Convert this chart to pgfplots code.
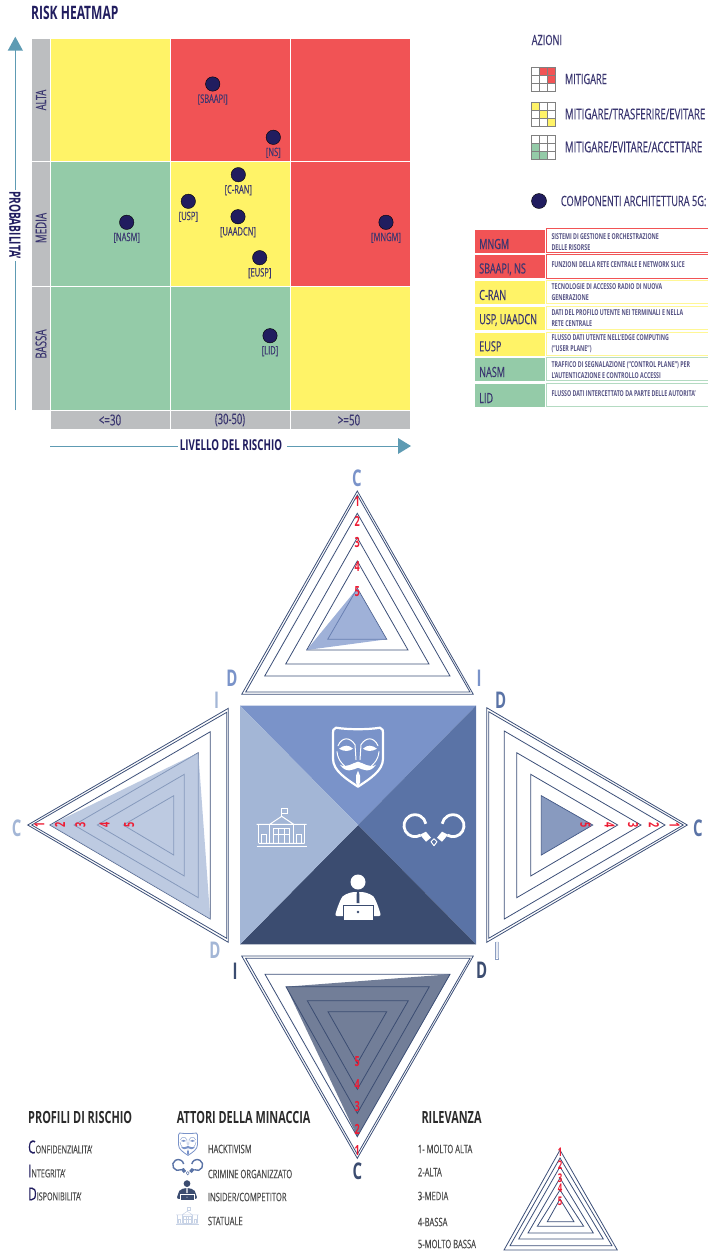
\documentclass[border=0pt]{standalone}
\usepackage{fontspec}
\setmainfont[FakeStretch=0.65,UprightFeatures={FakeBold=0.35}]{Open Sans}
\usepackage{pgfplots}
\pgfplotsset{compat=1.18}

\definecolor{hred}{HTML}{F15355}
\definecolor{hyel}{HTML}{FFF367}
\definecolor{hgrn}{HTML}{94CBA8}
\definecolor{hgry}{HTML}{BCBEC0}
\definecolor{navy}{HTML}{211D5F}
\definecolor{ink}{HTML}{3A3670}
\definecolor{teal}{HTML}{5E9BB3}
\definecolor{line}{HTML}{3C4F78}
\definecolor{cA}{HTML}{7A93C9}
\definecolor{cB}{HTML}{5A73A6}
\definecolor{cC}{HTML}{3B4C70}
\definecolor{cD}{HTML}{A3B6D6}
\definecolor{dark}{HTML}{2B2B2B}
\definecolor{gtx}{HTML}{4A4A4A}
\definecolor{digit}{HTML}{ED1C34}

% rectangle x1 x2 y1 y2
\newcommand{\cell}[5]{\addplot[fill=#1,draw=white,line width=0.9pt] coordinates {(#2,#4) (#3,#4) (#3,#5) (#2,#5)} -- cycle;}
\newcommand{\rowbox}[5]{\addplot[fill=white,draw=#1,line width=0.9pt] coordinates {(#3,#4) (#2,#4) (#2,#5) (#3,#5)};}
\newcommand{\mgrow}[5]{%
  \addplot[fill=#3,draw=gray,line width=0.8pt] coordinates {(531.5,#1) (539.3,#1) (539.3,#2) (531.5,#2)} -- cycle;
  \addplot[fill=#4,draw=gray,line width=0.8pt] coordinates {(539.3,#1) (547.1,#1) (547.1,#2) (539.3,#2)} -- cycle;
  \addplot[fill=#5,draw=gray,line width=0.8pt] coordinates {(547.1,#1) (554.9,#1) (554.9,#2) (547.1,#2)} -- cycle;}
\newcommand{\tri}[3]{\addplot[draw=line,line width=0.8pt,fill=none] coordinates {#1 #2 #3} -- cycle;}
\newcommand{\blob}[4]{\addplot[draw=none,fill=#1,fill opacity=0.72] coordinates {#2 #3 #4} -- cycle;}
% text: x y anchor size colour text
\newcommand{\tx}[6]{\node[anchor=#3,inner sep=0pt,text=#5,font=\fontsize{#4}{#4}\selectfont] at (axis cs:#1,#2) {#6};}
\newcommand{\btx}[6]{\node[anchor=#3,inner sep=0pt,text=#5,font=\fontsize{#4}{#4}\selectfont\bfseries] at (axis cs:#1,#2) {#6};}
\newcommand{\rtx}[7]{\node[anchor=center,rotate=#3,inner sep=0pt,text=#5,font=\fontsize{#4}{#4}\selectfont#7] at (axis cs:#1,#2) {#6};}

% icons, drawn round their centre
\newcommand{\maskicon}[4]{\begin{scope}[shift={(axis cs:#1,#2)},scale=#4,yscale=-1,x=1pt,y=1pt,draw=#3,fill=#3,line cap=round,line join=round]
  \draw[fill=none,line width=#4*2.2pt] (-22,-29) .. controls (-10,-27) and (10,-27) .. (22,-29) .. controls (25,-28) and (25,-26) .. (25,-24) -- (25,2) .. controls (25,14) and (12,22) .. (0,30) .. controls (-12,22) and (-25,14) .. (-25,2) -- (-25,-24) .. controls (-25,-26) and (-25,-28) .. (-22,-29) -- cycle;
  \draw[fill=none,line width=#4*1pt] (-20,-11) .. controls (-16,-20) and (-8,-20) .. (-3,-12) -- (-2,3);
  \draw[fill=none,line width=#4*1pt] (20,-11) .. controls (16,-20) and (8,-20) .. (3,-12) -- (2,3);
  \draw[fill=none,line width=#4*1pt] (-21,-5) .. controls (-20,5) and (-14,8) .. (-10,13);
  \draw[fill=none,line width=#4*1pt] (21,-5) .. controls (20,5) and (14,8) .. (10,13);
  \fill (-19,-8) .. controls (-14,-12) and (-9,-12) .. (-5,-8) .. controls (-9,-5) and (-14,-5) .. cycle;
  \fill (19,-8) .. controls (14,-12) and (9,-12) .. (5,-8) .. controls (9,-5) and (14,-5) .. cycle;
  \fill (-18,8) .. controls (-12,12) and (-5,6) .. (0,5) .. controls (5,6) and (12,12) .. (18,8) .. controls (12,17) and (5,13) .. (0,11) .. controls (-5,13) and (-12,17) .. cycle;
  \fill (0,14) -- (2,19) -- (2,26) -- (0,30) -- (-2,26) -- (-2,19) -- cycle;
\end{scope}}
\newcommand{\cuffs}[4]{\begin{scope}[shift={(axis cs:#1,#2)},scale=#4,yscale=-1,x=1pt,y=1pt,draw=#3,fill=#3,line join=round]
  \draw[fill=none,line width=#4*2.8pt] (-13.5,3.5) arc[start angle=60,end angle=350,radius=11];
  \draw[fill=none,line width=#4*2.8pt] (13.5,3.5) arc[start angle=120,end angle=-170,radius=11];
  \fill (-14,3) -- (-8,0) -- (-3,6) -- (-8,10) -- cycle;
  \fill (14,3) -- (8,0) -- (3,6) -- (8,10) -- cycle;
  \draw[fill=none,line width=#4*1pt] (-3,10) -- (0,7) -- (3,10) -- (0,14) -- cycle;
\end{scope}}
\newcommand{\person}[5]{\begin{scope}[shift={(axis cs:#1,#2)},scale=#4,yscale=-1,x=1pt,y=1pt]
  \fill[#3] (0,-18) circle[radius=7.5];
  \fill[#3,rounded corners=2pt] (-23,16) .. controls (-21,8) and (-17,-2) .. (-14,-5) -- (-6,-8) -- (6,-8) -- (14,-5) .. controls (17,-2) and (21,8) .. (23,16) -- cycle;
  \fill[#5] (-1.2,-8) -- (1.2,-8) -- (1.5,3) -- (-1.5,3) -- cycle;
  \draw[#5,fill=#3,line width=#4*1pt] (-15,5) rectangle (15,20);
  \fill[#5] (0,12) circle[radius=1.3];
\end{scope}}
\newcommand{\building}[4]{\begin{scope}[shift={(axis cs:#1,#2)},scale=#4,yscale=-1,x=1pt,y=1pt,draw=#3,line width=#4*1pt]
  \draw[line width=#4*1.6pt] (-25,18) -- (25,18);
  \draw (-23,15) -- (23,15) (-25,-4) -- (25,-4) (-12,-4) -- (0,-12) -- (12,-4);
  \draw (0,-12) -- (0,-20) -- (6,-20) -- (6,-15) -- (0,-15);
  \draw (-23,-4) -- (-23,15) (23,-4) -- (23,15) (-12,-4) -- (-12,15) (12,-4) -- (12,15);
  \draw (-8,0) rectangle (8,15) (-3,0) -- (-3,15) (3,0) -- (3,15) (-8,6) -- (8,6);
  \draw (-20,15) -- (-20,6) -- (-15,6) -- (-15,15) (15,15) -- (15,6) -- (20,6) -- (20,15);
\end{scope}}

\begin{document}
\begin{tikzpicture}
\useasboundingbox (0,0) rectangle (708pt,1251pt);
\begin{axis}[
  scale only axis,width=708pt,height=1251pt,
  xmin=0,xmax=708,ymin=0,ymax=1251,y dir=reverse,
  hide axis,clip=false,
]
%% heatmap
\cell{hgry}{31.5}{50.5}{38}{161.5}
\cell{hgry}{31.5}{50.5}{161.5}{286}
\cell{hgry}{31.5}{50.5}{286}{410}
\cell{hgry}{50.5}{170}{410}{429}
\cell{hgry}{170}{290}{410}{429}
\cell{hgry}{290}{410}{410}{429}
\cell{hyel}{50.5}{170}{38}{161.5}
\cell{hred}{170}{290}{38}{161.5}
\cell{hred}{290}{410}{38}{161.5}
\cell{hgrn}{50.5}{170}{161.5}{286}
\cell{hyel}{170}{290}{161.5}{286}
\cell{hred}{290}{410}{161.5}{286}
\cell{hgrn}{50.5}{170}{286}{410}
\cell{hgrn}{170}{290}{286}{410}
\cell{hyel}{290}{410}{286}{410}
\addplot[only marks,mark=*,mark size=7.2pt,mark options={fill=navy,draw=none},
  nodes near coords,point meta=explicit symbolic,
  every node near coord/.style={anchor=center,yshift=-15.5pt,text=ink,inner sep=0pt,font=\fontsize{11.6}{11.6}\selectfont}]
  table[meta=lab] {
x y lab
212.7 84 [SBAAPI]
273.3 137.3 [NS]
238.3 174.7 [C-RAN]
188.3 201.3 [USP]
238 216.7 [UAADCN]
259.7 257.7 [EUSP]
126.7 222.3 [NASM]
386 222.3 [MNGM]
270 335.7 [LID]
};
\btx{31}{13}{west}{18.5}{navy}{RISK HEATMAP}
\rtx{41}{100}{90}{14}{ink}{ALTA}{}
\rtx{41}{228}{90}{15}{ink}{MEDIA}{}
\rtx{41}{344}{90}{15}{ink}{BASSA}{}
\tx{110}{420}{center}{15}{ink}{<=30}
\tx{230}{420}{center}{14.5}{ink}{(30-50)}
\tx{349}{420}{center}{15}{ink}{>=50}
% arrows
\addplot[draw=teal,line width=1pt] coordinates {(15,410) (15,50)};
\addplot[draw=none,fill=teal] coordinates {(7.7,50.7) (23,50.7) (15.3,36.7)} -- cycle;
\addplot[draw=white,line width=4pt] coordinates {(15,190) (15,261)};
\rtx{15}{225}{-90}{15.6}{navy}{PROBABILITA'}{\bfseries}
\addplot[draw=teal,line width=1pt] coordinates {(50,446) (178,446)};
\addplot[draw=teal,line width=1pt] coordinates {(287,446) (400,446)};
\addplot[draw=none,fill=teal] coordinates {(398,438) (411,446) (398,454)} -- cycle;
\btx{231}{445.5}{center}{15}{navy}{LIVELLO DEL RISCHIO}
%% legend of actions
\tx{531.5}{40}{west}{14.2}{ink}{AZIONI}
\mgrow{67.3}{75.3}{white}{hred}{hred}
\mgrow{75.3}{83.3}{white}{white}{hred}
\mgrow{83.3}{91.3}{white}{white}{white}
\mgrow{102.7}{110.7}{hyel}{white}{white}
\mgrow{110.7}{118.7}{white}{hyel}{white}
\mgrow{118.7}{126.7}{white}{white}{hyel}
\mgrow{135.7}{143.7}{white}{white}{white}
\mgrow{143.7}{151.7}{hgrn}{white}{white}
\mgrow{151.7}{159.7}{hgrn}{hgrn}{white}
\tx{564.7}{79}{west}{14.2}{ink}{MITIGARE}
\tx{564.7}{114}{west}{14.9}{ink}{MITIGARE/TRASFERIRE/EVITARE}
\tx{564.7}{147}{west}{14.8}{ink}{MITIGARE/EVITARE/ACCETTARE}
\addplot[only marks,mark=*,mark size=7.5pt,mark options={fill=navy,draw=none}] coordinates {(539,201)};
\tx{560.7}{201}{west}{14.2}{ink}{COMPONENTI ARCHITETTURA 5G:}
%% table
\cell{hred}{474}{545.5}{229}{253.2}
\cell{hred}{474}{545.5}{254}{278.5}
\cell{hyel}{474}{545.5}{280}{304}
\cell{hyel}{474}{545.5}{306}{330}
\cell{hyel}{474}{545.5}{332}{356}
\cell{hgrn}{474}{545.5}{357.3}{381.3}
\cell{hgrn}{474}{545.5}{383.3}{407.3}
\rowbox{hred}{546}{709}{228.5}{252.5}
\rowbox{hred}{546}{709}{254}{278}
\rowbox{hyel!70!white}{546}{709}{280}{303.5}
\rowbox{hyel!70!white}{546}{709}{306}{329.5}
\rowbox{hyel!70!white}{546}{709}{332}{355.5}
\rowbox{hgrn!70!white}{546}{709}{357.3}{380.5}
\rowbox{hgrn!70!white}{546}{709}{383.3}{406}
\tx{479}{244}{west}{14}{ink}{MNGM}
\tx{479}{269.3}{west}{14}{ink}{SBAAPI, NS}
\tx{479}{295}{west}{14}{ink}{C-RAN}
\tx{479}{320}{west}{14}{ink}{USP, UAADCN}
\tx{479}{346.3}{west}{14}{ink}{EUSP}
\tx{479}{372}{west}{14}{ink}{NASM}
\tx{479}{398}{west}{14}{ink}{LID}
\btx{551.3}{237}{west}{8.1}{ink!85}{SISTEMI DI GESTIONE E ORCHESTRAZIONE}
\btx{551.3}{248}{west}{8.1}{ink!85}{DELLE RISORSE}
\btx{551.3}{265}{west}{8.1}{ink!85}{FUNZIONI DELLA RETE CENTRALE E NETWORK SLICE}
\btx{551.3}{287}{west}{8.1}{ink!85}{TECNOLOGIE DI ACCESSO RADIO DI NUOVA}
\btx{551.3}{298}{west}{8.1}{ink!85}{GENERAZIONE}
\btx{551.3}{313}{west}{8.1}{ink!85}{DATI DEL PROFILO UTENTE  NEI TERMINALI E NELLA}
\btx{551.3}{324}{west}{8.1}{ink!85}{RETE CENTRALE}
\btx{551.3}{338}{west}{8.1}{ink!85}{FLUSSO DATI UTENTE NELL'EDGE COMPUTING}
\btx{551.3}{349}{west}{8.1}{ink!85}{("USER PLANE")}
\btx{551.3}{365}{west}{8.1}{ink!85}{TRAFFICO DI SEGNALAZIONE ("CONTROL PLANE") PER}
\btx{551.3}{376}{west}{8.1}{ink!85}{L'AUTENTICAZIONE E CONTROLLO ACCESSI}
\btx{551.3}{394}{west}{8.1}{ink!85}{FLUSSO DATI INTERCETTATO DA PARTE DELLE AUTORITA'}
%% centre square
\addplot[draw=none,fill=cA] coordinates {(240,705.7) (476,705.7) (358,825)} -- cycle;
\addplot[draw=none,fill=cB] coordinates {(476,705.7) (476,944.3) (358,825)} -- cycle;
\addplot[draw=none,fill=cC] coordinates {(476,944.3) (240,944.3) (358,825)} -- cycle;
\addplot[draw=none,fill=cD] coordinates {(240,944.3) (240,705.7) (358,825)} -- cycle;
\maskicon{358}{756.7}{white}{1}
\cuffs{434}{831.7}{white}{1}
\person{358}{900}{white}{1}{cC}
\building{281.7}{828.3}{white}{1}
%% top radar
\tri{(357.3,491)}{(241.7,694.3)}{(473.3,694.3)}
\tri{(357.3,495)}{(245.7,692)}{(470,692)}
\tri{(357.3,513.3)}{(264.7,676)}{(450,676)}
\tri{(357.3,537.7)}{(285.7,664)}{(429,664)}
\tri{(357.3,561)}{(306.7,650)}{(408,650)}
\tri{(357.3,588.3)}{(327.7,639.3)}{(386.7,639.3)}
\blob{cA}{(357.3,588.3)}{(306.7,650)}{(386.7,639.3)}
\rtx{357.3}{501}{0}{14}{digit}{1}{\bfseries}
\rtx{357.3}{521.7}{0}{14}{digit}{2}{\bfseries}
\rtx{357.3}{542.7}{0}{14}{digit}{3}{\bfseries}
\rtx{357.3}{566.7}{0}{14}{digit}{4}{\bfseries}
\rtx{357.3}{591.7}{0}{14}{digit}{5}{\bfseries}
\btx{357}{478}{center}{23}{cA}{C}
\btx{232}{678}{center}{23}{cA}{D}
\btx{479}{678}{center}{23}{cA}{I}
%% left radar
\tri{(27.7,825)}{(228.3,708.3)}{(228.3,942.3)}
\tri{(31.7,825)}{(226.7,712.3)}{(226.7,938.3)}
\tri{(50,825)}{(210.3,731.7)}{(210.3,919)}
\tri{(74,825)}{(198.3,752.7)}{(198.3,897.7)}
\tri{(97.3,825)}{(184.3,774.3)}{(184.3,876)}
\tri{(123.3,825)}{(173.7,795.7)}{(173.7,855)}
\blob{cD}{(50,825)}{(198.3,752.7)}{(210.3,919)}
\rtx{39.3}{825}{90}{14}{digit}{1}{\bfseries}
\rtx{60}{825}{90}{14}{digit}{2}{\bfseries}
\rtx{80.3}{825}{90}{14}{digit}{3}{\bfseries}
\rtx{104.7}{825}{90}{14}{digit}{4}{\bfseries}
\rtx{129.3}{825}{90}{14}{digit}{5}{\bfseries}
\btx{16.7}{828}{center}{23}{cD}{C}
\btx{216.7}{700}{center}{23}{cD}{I}
\btx{215}{950.7}{center}{23}{cD}{D}
%% right radar
\tri{(687.3,825)}{(486.7,707.7)}{(486.7,942.3)}
\tri{(683.3,825)}{(488.7,711.7)}{(488.7,938.3)}
\tri{(665,825)}{(504.3,731)}{(504.3,919)}
\tri{(641,825)}{(516.7,752.7)}{(516.7,897.7)}
\tri{(617.7,825)}{(530.7,774.3)}{(530.7,876)}
\tri{(592.7,825)}{(541.3,795.7)}{(541.3,855)}
\blob{cB}{(592.7,825)}{(541.3,795.7)}{(541.3,855)}
\rtx{674.7}{825}{-90}{14}{digit}{1}{\bfseries}
\rtx{654}{825}{-90}{14}{digit}{2}{\bfseries}
\rtx{633}{825}{-90}{14}{digit}{3}{\bfseries}
\rtx{609.7}{825}{-90}{14}{digit}{4}{\bfseries}
\rtx{585.3}{825}{-90}{14}{digit}{5}{\bfseries}
\btx{500.7}{700}{center}{23}{cB}{D}
\btx{698}{828}{center}{23}{cB}{C}
\addplot[draw=cB!70,fill=white,line width=0.7pt] coordinates {(495.8,942) (498.8,942) (498.8,959) (495.8,959)} -- cycle;
\btx{497.3}{950.7}{center}{23}{cB!15}{I}
%% bottom radar
\tri{(357.3,1158.3)}{(241.7,956)}{(473.3,956)}
\tri{(357.3,1154.3)}{(245.7,958.3)}{(470,958.3)}
\tri{(357.3,1136.7)}{(265,974.3)}{(450,974.3)}
\tri{(357.3,1113.3)}{(286,986.7)}{(429.3,986.7)}
\tri{(357.3,1089.3)}{(307.3,1000.7)}{(408.3,1000.7)}
\tri{(357.3,1063.3)}{(328,1011.7)}{(386.7,1011.7)}
\blob{cC}{(286,986.7)}{(450,974.3)}{(357.3,1136.7)}
\rtx{357.3}{1061.7}{0}{14}{digit}{5}{\bfseries}
\rtx{357.3}{1084}{0}{14}{digit}{4}{\bfseries}
\rtx{357.3}{1106.7}{0}{14}{digit}{3}{\bfseries}
\rtx{357.3}{1129.3}{0}{14}{digit}{2}{\bfseries}
\rtx{357.3}{1150}{0}{14}{digit}{1}{\bfseries}
\btx{235}{971.7}{center}{23}{cC}{I}
\btx{481.7}{970}{center}{23}{cC}{D}
\btx{357.3}{1171}{center}{23}{cC}{C}
%% bottom legends
\btx{28}{1117}{west}{16.8}{dark}{PROFILI DI RISCHIO}
\btx{176.7}{1117}{west}{16.8}{dark}{ATTORI DELLA MINACCIA}
\btx{421.3}{1117}{west}{16.8}{dark}{RILEVANZA}
\tx{28}{1147}{west}{11.1}{gtx}{{\color{navy}\fontsize{18}{18}\selectfont C}ONFIDENZIALITA'}
\tx{28}{1171}{west}{11.1}{gtx}{{\color{navy}\fontsize{18}{18}\selectfont I}NTEGRITA'}
\tx{28}{1194}{west}{11.1}{gtx}{{\color{navy}\fontsize{18}{18}\selectfont D}ISPONIBILITA'}
\maskicon{188}{1144}{cA}{0.38}
\cuffs{187.7}{1168}{cB}{0.5}
\person{187}{1191.7}{cC}{0.45}{white}
\building{187.3}{1216.7}{cD!60!white}{0.45}
\tx{207.7}{1149}{west}{11.7}{gtx}{HACKTIVISM}
\tx{207.7}{1174}{west}{11.7}{gtx}{CRIMINE ORGANIZZATO}
\tx{207.7}{1197}{west}{11.7}{gtx}{INSIDER/COMPETITOR}
\tx{207.7}{1221}{west}{11.7}{gtx}{STATUALE}
\tx{417.7}{1149}{west}{11.7}{gtx}{1- MOLTO ALTA}
\tx{417.7}{1172}{west}{11.7}{gtx}{2-ALTA}
\tx{417.7}{1196}{west}{11.7}{gtx}{3-MEDIA}
\tx{417.7}{1222}{west}{11.7}{gtx}{4-BASSA}
\tx{417.7}{1244}{west}{11.7}{gtx}{5-MOLTO BASSA}
\tri{(560,1150)}{(504,1250)}{(617.3,1250)}
\tri{(560,1158)}{(510,1245.7)}{(612,1245.7)}
\tri{(560,1166.7)}{(518.7,1239)}{(603.3,1239)}
\tri{(560,1178)}{(528,1233)}{(593.3,1233)}
\tri{(560,1190)}{(537.3,1226.3)}{(583.7,1226.3)}
\tri{(560,1199)}{(547.3,1221.7)}{(574,1221.7)}
\rtx{560}{1152}{0}{12}{digit}{1}{\bfseries}
\rtx{560}{1165}{0}{12}{digit}{2}{\bfseries}
\rtx{560}{1177.7}{0}{12}{digit}{3}{\bfseries}
\rtx{560}{1188.7}{0}{12}{digit}{4}{\bfseries}
\rtx{560}{1201}{0}{12}{digit}{5}{\bfseries}
\end{axis}
\end{tikzpicture}
\end{document}
